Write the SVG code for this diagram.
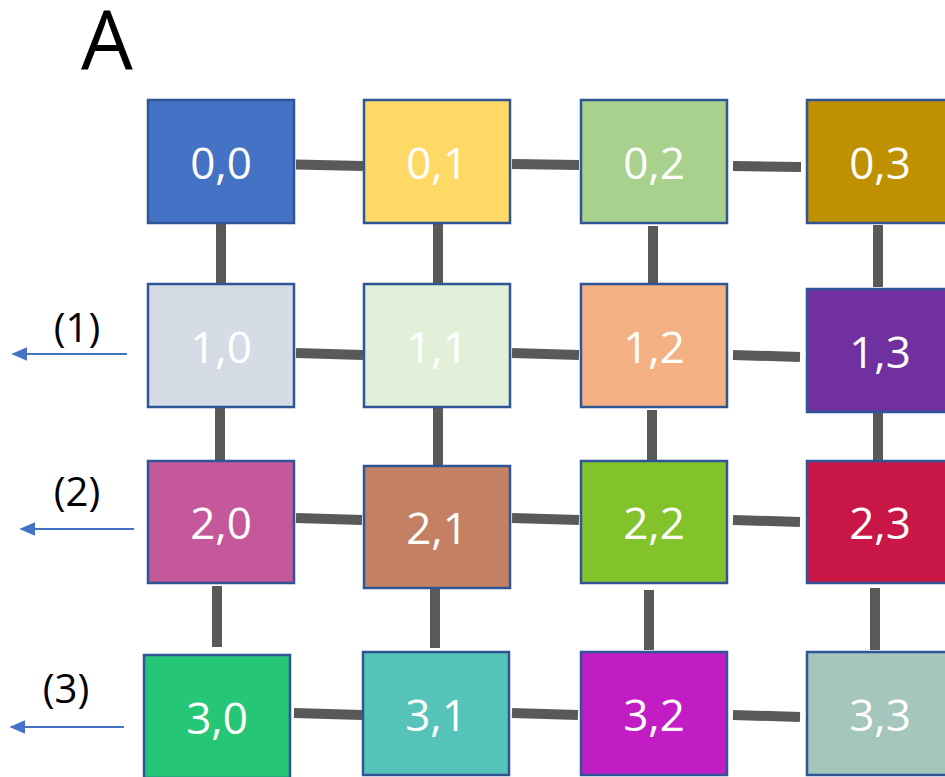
<svg xmlns="http://www.w3.org/2000/svg" width="945" height="777" viewBox="0 0 945 777">
  <style>
    .box rect { stroke: #2F5597; stroke-width: 2.5; }
    .box text { font-family: "Open Sans", "Liberation Sans", sans-serif; font-size: 44px; fill: #FFFFFF; text-anchor: middle; dominant-baseline: central; }
    .link { stroke: #595959; stroke-width: 10; fill: none; }
    .out { stroke: #4472C4; stroke-width: 2; fill: none; }
    .lbl { font-family: "Open Sans", "Liberation Sans", sans-serif; font-size: 40px; fill: #000000; text-anchor: middle; }
  </style>
  <defs>
    <marker id="head" viewBox="0 0 10 10" refX="9" refY="5" markerWidth="8" markerHeight="7" orient="auto" markerUnits="strokeWidth" preserveAspectRatio="none">
      <path d="M0,0 L10,5 L0,10 Z" fill="#4472C4"/>
    </marker>
  </defs>
  <rect width="945" height="777" fill="#FFFFFF"/>

  <text x="107" y="70" font-family="Open Sans, Liberation Sans, sans-serif" font-size="82" fill="#000000" text-anchor="middle">A</text>

  <!-- connectors -->
  <g id="connectors">
    <!-- row 0 -->
    <line class="link" x1="296" y1="164.5" x2="363" y2="166"/>
    <line class="link" x1="512" y1="164" x2="579" y2="165"/>
    <line class="link" x1="733" y1="166" x2="801" y2="167"/>
    <!-- row 0 to row 1 -->
    <line class="link" x1="221" y1="223" x2="221" y2="283"/>
    <line class="link" x1="438" y1="224" x2="438" y2="284"/>
    <line class="link" x1="653" y1="226" x2="653" y2="287"/>
    <line class="link" x1="878" y1="225" x2="878" y2="287"/>
    <!-- row 1 -->
    <line class="link" x1="296" y1="353" x2="363" y2="355"/>
    <line class="link" x1="512" y1="353" x2="579" y2="355"/>
    <line class="link" x1="733" y1="355" x2="800" y2="357"/>
    <!-- row 1 to row 2 -->
    <line class="link" x1="220" y1="408" x2="220" y2="467"/>
    <line class="link" x1="438" y1="408" x2="438" y2="466"/>
    <line class="link" x1="652" y1="410" x2="652" y2="472"/>
    <line class="link" x1="878" y1="412" x2="878" y2="470"/>
    <!-- row 2 -->
    <line class="link" x1="296" y1="518" x2="362" y2="520"/>
    <line class="link" x1="512" y1="518" x2="579" y2="520"/>
    <line class="link" x1="733" y1="520" x2="800" y2="522"/>
    <!-- row 2 to row 3 -->
    <line class="link" x1="217" y1="586" x2="217" y2="647"/>
    <line class="link" x1="435" y1="588" x2="435" y2="648"/>
    <line class="link" x1="649" y1="590" x2="649" y2="650"/>
    <line class="link" x1="875" y1="588" x2="875" y2="650"/>
    <!-- row 3 -->
    <line class="link" x1="294" y1="713" x2="362" y2="715"/>
    <line class="link" x1="512" y1="713" x2="578" y2="715"/>
    <line class="link" x1="733" y1="715" x2="800" y2="717"/>
    <!-- outputs -->
    <line class="out" x1="127" y1="354" x2="13" y2="354" marker-end="url(#head)"/>
    <line class="out" x1="134" y1="529" x2="21" y2="529" marker-end="url(#head)"/>
    <line class="out" x1="124" y1="727" x2="11" y2="727" marker-end="url(#head)"/>
  </g>

  <text class="lbl" x="77" y="342">(1)</text>
  <text class="lbl" x="77" y="506">(2)</text>
  <text class="lbl" x="66" y="703">(3)</text>

  <!-- row 0 -->
  <g id="n00" class="box"><rect x="148" y="100" width="146" height="123" fill="#4472C4"/><text x="221" y="162">0,0</text></g>
  <g id="n01" class="box"><rect x="364" y="100" width="146" height="123" fill="#FFD966"/><text x="437" y="162">0,1</text></g>
  <g id="n02" class="box"><rect x="581" y="100" width="146" height="123" fill="#A9D18E"/><text x="654" y="162">0,2</text></g>
  <g id="n03" class="box"><rect x="807" y="100" width="146" height="123" fill="#BF9000"/><text x="880" y="162">0,3</text></g>
  <!-- row 1 -->
  <g id="n10" class="box"><rect x="148" y="284" width="146" height="123" fill="#D6DCE5"/><text x="221" y="346">1,0</text></g>
  <g id="n11" class="box"><rect x="364" y="284" width="146" height="123" fill="#E2F0D9"/><text x="437" y="346">1,1</text></g>
  <g id="n12" class="box"><rect x="581" y="284" width="146" height="123" fill="#F4B183"/><text x="654" y="346">1,2</text></g>
  <g id="n13" class="box"><rect x="807" y="289" width="146" height="123" fill="#7030A0"/><text x="880" y="351">1,3</text></g>
  <!-- row 2 -->
  <g id="n20" class="box"><rect x="148" y="461" width="146" height="122" fill="#C5579B"/><text x="221" y="522">2,0</text></g>
  <g id="n21" class="box"><rect x="364" y="466" width="146" height="122" fill="#C48062"/><text x="437" y="527">2,1</text></g>
  <g id="n22" class="box"><rect x="581" y="461" width="146" height="122" fill="#82C32C"/><text x="654" y="522">2,2</text></g>
  <g id="n23" class="box"><rect x="807" y="461" width="146" height="122" fill="#C81747"/><text x="880" y="522">2,3</text></g>
  <!-- row 3 -->
  <g id="n30" class="box"><rect x="144" y="655" width="146" height="123" fill="#25C675"/><text x="217" y="717">3,0</text></g>
  <g id="n31" class="box"><rect x="363" y="652" width="146" height="123" fill="#56C3B8"/><text x="436" y="714">3,1</text></g>
  <g id="n32" class="box"><rect x="581" y="652" width="146" height="123" fill="#C21DC4"/><text x="654" y="714">3,2</text></g>
  <g id="n33" class="box"><rect x="807" y="652" width="146" height="123" fill="#A4C6BC"/><text x="880" y="714">3,3</text></g>
</svg>
